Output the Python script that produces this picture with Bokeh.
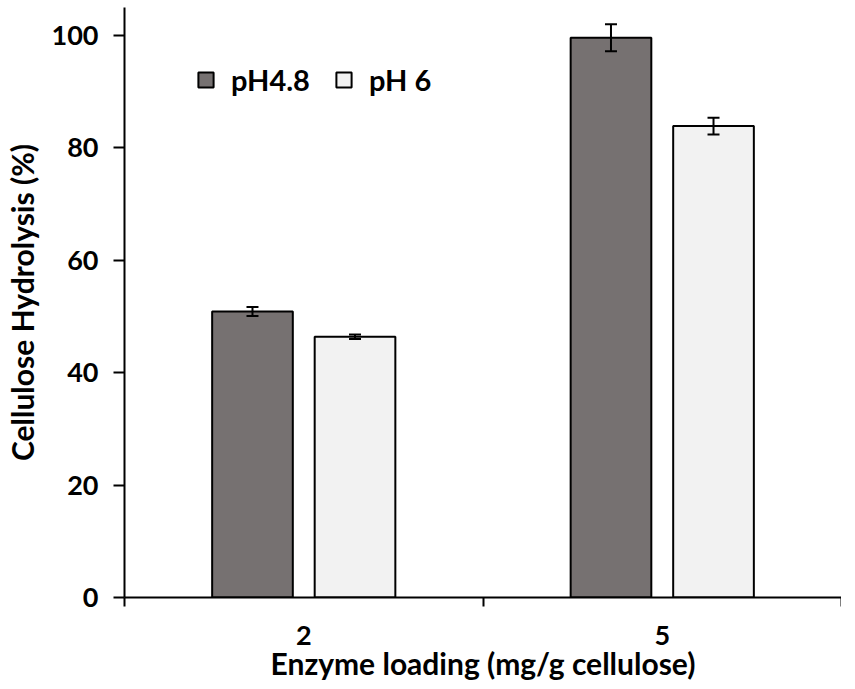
from bokeh.plotting import figure
from bokeh.models import ColumnDataSource, FixedTicker, Range1d, Whisker, TeeHead, Legend, LegendItem
from bokeh.transform import dodge
from bokeh.embed import file_html
from bokeh.resources import INLINE

categories = ["2", "5"]
ph48 = [50.9, 99.6]
ph48_err = [0.8, 2.4]
ph6 = [46.4, 83.9]
ph6_err = [0.4, 1.5]
series_names = ["pH4.8", "pH 6"]
y_ticks = [0, 20, 40, 60, 80, 100]

FONT = "Lato"
centers = [i + 0.5 for i in range(len(categories))]
src = ColumnDataSource(dict(
    x=centers,
    a=ph48, a_lo=[v - e for v, e in zip(ph48, ph48_err)], a_hi=[v + e for v, e in zip(ph48, ph48_err)],
    b=ph6, b_lo=[v - e for v, e in zip(ph6, ph6_err)], b_hi=[v + e for v, e in zip(ph6, ph6_err)],
))

p = figure(frame_width=717, frame_height=590, output_backend="svg", toolbar_location=None,
           x_range=Range1d(0, len(categories)), y_range=Range1d(0, 105),
           min_border_left=122, min_border_right=0, min_border_top=7, min_border_bottom=80)
p.outline_line_color = None
p.xgrid.visible = False
p.ygrid.visible = False

W = 0.225
OFF = 0.143
ra = p.vbar(x=dodge("x", -OFF), top="a", width=W, source=src, fill_color="#767171",
            line_color="black", line_width=2)
rb = p.vbar(x=dodge("x", OFF), top="b", width=W, source=src, fill_color="#F2F2F2",
            line_color="black", line_width=2)

for base, lo, hi in [(-OFF, "a_lo", "a_hi"), (OFF, "b_lo", "b_hi")]:
    w = Whisker(base=dodge("x", base), lower=lo, upper=hi, source=src, line_width=2,
                line_color="black", level="overlay",
                upper_head=TeeHead(size=12, line_width=2, line_color="black"),
                lower_head=TeeHead(size=12, line_width=2, line_color="black"))
    p.add_layout(w)

# axes
xa = p.xaxis[0]
xa.ticker = FixedTicker(ticks=centers, minor_ticks=list(range(len(categories) + 1)))
xa.major_label_overrides = {c: lab for c, lab in zip(centers, categories)}
xa.major_tick_line_color = None
xa.major_tick_out = 0
xa.minor_tick_out = 9
xa.minor_tick_in = 0
xa.minor_tick_line_width = 2
xa.minor_tick_line_color = "black"
xa.axis_line_width = 2
xa.axis_line_color = "black"
xa.major_label_standoff = 19
xa.axis_label = "Enzyme loading (mg/g cellulose)"
xa.axis_label_standoff = -3

ya = p.yaxis[0]
ya.ticker = FixedTicker(ticks=y_ticks)
ya.minor_tick_line_color = None
ya.major_tick_out = 11
ya.major_tick_in = 0
ya.major_tick_line_width = 2
ya.axis_line_width = 2
ya.major_label_standoff = 15
ya.axis_label = "Cellulose Hydrolysis (%)"
ya.axis_label_standoff = 9

for ax in (xa, ya):
    ax.major_label_text_font = FONT
    ax.major_label_text_font_style = "bold"
    ax.major_label_text_font_size = "27px"
    ax.major_label_text_color = "black"
    ax.axis_label_text_font = FONT
    ax.axis_label_text_font_style = "bold"
    ax.axis_label_text_font_size = "30px"
    ax.axis_label_text_color = "black"

legend = Legend(items=[LegendItem(label=series_names[0], renderers=[ra]),
                       LegendItem(label=series_names[1], renderers=[rb])],
                orientation="horizontal", location=(72, 590 - 68 - 22),
                glyph_width=19, glyph_height=19, label_standoff=16, spacing=24,
                padding=0, margin=0, border_line_color=None, background_fill_alpha=0,
                label_text_font=FONT, label_text_font_style="bold",
                label_text_font_size="29px", label_text_color="black", label_height=19)
p.add_layout(legend, "center")

open("out.html", "w").write(file_html(p, INLINE))
